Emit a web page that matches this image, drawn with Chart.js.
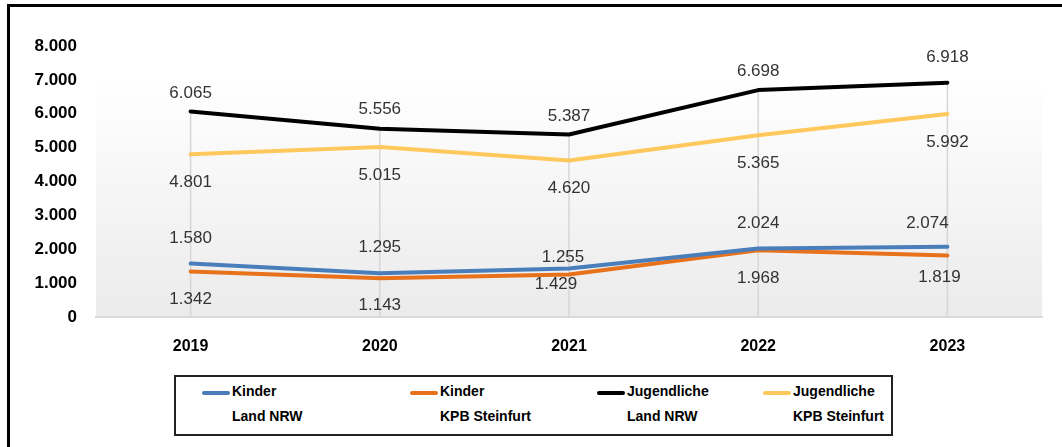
<!DOCTYPE html>
<html lang="de">
<head>
<meta charset="utf-8">
<title>Kinder und Jugendliche 2019-2023</title>
<script src="https://cdn.jsdelivr.net/npm/chart.js@4.4.0/dist/chart.umd.min.js"></script>
<style>
  html, body { margin: 0; padding: 0; background: #fff; overflow: hidden; }
  #wrap { position: relative; width: 1062px; height: 447px; }
  #frame {
    position: absolute; left: 7px; top: 4px; width: 1100px; height: 500px;
    border: 3px solid #000; box-sizing: border-box; pointer-events: none;
  }
  #legend {
    position: absolute; left: 174px; top: 375px; width: 719px; height: 61px;
    border: 2px solid #222; box-sizing: border-box; background: #fff;
    font-family: "Liberation Sans", sans-serif;
    font-weight: bold; font-size: 14px; color: #000;
  }
  .item { position: absolute; top: 6px; display: flex; align-items: flex-start; }
  .swatch { width: 28px; height: 4px; margin-top: 8px; border-radius: 2px; }
  .txt { margin-left: 2px; line-height: 25px; margin-top: -4px; }
</style>
</head>
<body>
<div id="wrap">
  <canvas id="chart" width="1062" height="447"></canvas>
  <div id="frame"></div>
  <div id="legend"></div>
</div>
<script>
// ===== DADOS =====
const years = ["2019", "2020", "2021", "2022", "2023"];
const kinderNRW = [1580, 1295, 1429, 2024, 2074];
const kinderSteinfurt = [1342, 1143, 1255, 1968, 1819];
const jugendNRW = [6065, 5556, 5387, 6698, 6918];
const jugendSteinfurt = [4801, 5015, 4620, 5365, 5992];
const seriesNames = ["Kinder\nLand NRW", "Kinder\nKPB Steinfurt", "Jugendliche\nLand NRW", "Jugendliche\nKPB Steinfurt"];
const yTicks = [0, 1000, 2000, 3000, 4000, 5000, 6000, 7000, 8000];

const colors = ["#4a7ebb", "#e8711c", "#000000", "#ffc85c"];

// label offsets (dx, dy) per series and point, relative to the point
const labelOffsets = [
  [[0, -25], [0, -26], [-13, 16], [0, -25], [-20, -23]],
  [[0, 28], [0, 27], [-6, -17], [0, 28], [-8, 22]],
  [[0, -18], [0, -19], [0, -18], [0, -19], [0, -25]],
  [[0, 28], [0, 28], [0, 28], [0, 28], [0, 28]]
];

function fmt(v) {
  if (v < 1000) return String(v);
  return Math.floor(v / 1000) + "." + String(v % 1000).padStart(3, "0");
}

// ===== PLUGINS =====
const plotBg = {
  id: "plotBg",
  beforeDraw(chart) {
    const { ctx, chartArea: a } = chart;
    const g = ctx.createLinearGradient(0, a.top, 0, a.bottom);
    g.addColorStop(0, "#ffffff");
    g.addColorStop(0.12, "#ffffff");
    g.addColorStop(1, "#ebebeb");
    ctx.save();
    ctx.fillStyle = g;
    ctx.fillRect(a.left, a.top, a.right - a.left, a.bottom - a.top);
    ctx.restore();
  }
};

const dropLines = {
  id: "dropLines",
  beforeDatasetsDraw(chart) {
    const { ctx, chartArea: a } = chart;
    const metas = chart.data.datasets.map((d, i) => chart.getDatasetMeta(i));
    ctx.save();
    ctx.strokeStyle = "#d6d6d6";
    ctx.lineWidth = 1.5;
    years.forEach((y, i) => {
      let top = a.bottom;
      let x = 0;
      metas.forEach(m => {
        const p = m.data[i];
        x = p.x;
        if (p.y < top) top = p.y;
      });
      ctx.beginPath();
      ctx.moveTo(x, top);
      ctx.lineTo(x, a.bottom);
      ctx.stroke();
    });
    ctx.restore();
  }
};

const valueLabels = {
  id: "valueLabels",
  afterDatasetsDraw(chart) {
    const { ctx } = chart;
    ctx.save();
    ctx.font = "17px 'Liberation Sans', sans-serif";
    ctx.fillStyle = "#333333";
    ctx.textAlign = "center";
    ctx.textBaseline = "middle";
    chart.data.datasets.forEach((ds, si) => {
      const meta = chart.getDatasetMeta(si);
      meta.data.forEach((p, i) => {
        const off = labelOffsets[si][i];
        ctx.fillText(fmt(ds.data[i]), p.x + off[0], p.y + off[1]);
      });
    });
    ctx.restore();
  }
};

// ===== GRÁFICO =====
const allSeries = [kinderNRW, kinderSteinfurt, jugendNRW, jugendSteinfurt];

const chart = new Chart(document.getElementById("chart"), {
  type: "line",
  data: {
    labels: years,
    datasets: allSeries.map((data, i) => ({
      label: seriesNames[i],
      data: data,
      borderColor: colors[i],
      backgroundColor: colors[i],
      borderWidth: 4,
      pointRadius: 0,
      tension: 0,
      borderJoinStyle: "round",
      borderCapStyle: "round"
    }))
  },
  options: {
    responsive: false,
    animation: false,
    layout: { padding: { left: 0, top: 46, right: 20, bottom: 0 } },
    plugins: { legend: { display: false }, tooltip: { enabled: false } },
    scales: {
      x: {
        offset: true,
        grid: { display: false },
        border: { display: true, color: "#d9d9d9", width: 2 },
        ticks: {
          color: "#000",
          padding: 12,
          font: { family: "'Liberation Sans', sans-serif", size: 16, weight: "bold" }
        },
        afterFit(scale) { scale.height = 130; }
      },
      y: {
        min: 0,
        max: 8000,
        afterBuildTicks(scale) { scale.ticks = yTicks.map(v => ({ value: v })); },
        grid: { display: false, drawTicks: false },
        border: { display: false },
        ticks: {
          color: "#000",
          padding: 19,
          font: { family: "'Liberation Sans', sans-serif", size: 17, weight: "bold" },
          callback: (v) => fmt(v)
        },
        afterFit(scale) { scale.width = 96; }
      }
    }
  },
  plugins: [plotBg, dropLines, valueLabels]
});

// ===== LEGENDA =====
const legend = document.getElementById("legend");
const itemX = [26, 234, 421, 587];
chart.data.datasets.forEach((ds, i) => {
  const item = document.createElement("div");
  item.className = "item";
  item.style.left = itemX[i] + "px";
  item.innerHTML = `
    <div class="swatch" style="background:${ds.borderColor}"></div>
    <div class="txt">${ds.label.split("\n").join("<br>")}</div>
  `;
  legend.appendChild(item);
});
</script>
</body>
</html>
